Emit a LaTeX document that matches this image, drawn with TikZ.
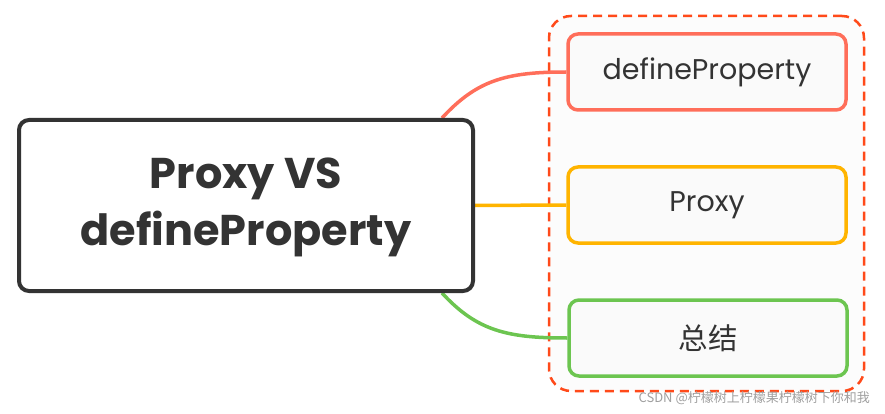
\documentclass[tikz,border=0pt]{standalone}
\usepackage{fontspec}
\setmainfont{Poppins}
\newfontfamily\cjk{Noto Sans CJK SC}
\usetikzlibrary{backgrounds}
\pgfdeclarelayer{back}
\pgfsetlayers{back,background,main}
\definecolor{dark}{HTML}{333333}
\definecolor{cred}{HTML}{FF6E5A}
\definecolor{corange}{HTML}{FFB400}
\definecolor{cgreen}{HTML}{6CC550}
\definecolor{grp}{HTML}{FF4A1A}
\definecolor{txt}{HTML}{333333}
\tikzset{
  centralbox/.style={draw=dark, line width=4pt, rounded corners=10pt, fill=white,
    minimum width=454pt, minimum height=171pt, text=txt,
    font=\fontsize{43}{57}\selectfont\bfseries, inner sep=0pt},
  childbox/.style={line width=3.5pt, rounded corners=10pt, fill=white!98!black,
    minimum width=278pt, minimum height=76pt, text=txt, inner sep=0pt,
    font=\fontsize{28.5}{32}\selectfont},
  conn/.style={line width=3.5pt},
  groupbox/.style={draw=grp, line width=2.5pt, dash pattern=on 9pt off 6pt, rounded corners=22pt, fill=white!99!black}
}
\begin{document}
\begin{tikzpicture}[x=1pt,y=-1pt]
\useasboundingbox (0,0) rectangle (885,414);
\node[centralbox] (c) at (246,205.5) {\raisebox{-5pt}{\begin{tabular}{@{}c@{}}Proxy VS\\defineProperty\end{tabular}}};
\node[childbox, draw=cred] (a) at (707,72) {\raisebox{-2pt}{defineProperty}};
\node[childbox, draw=corange] (b) at (707,205) {\raisebox{-2pt}{Proxy}};
\node[childbox, draw=cgreen, font=\cjk\fontsize{29.5}{32}\selectfont] (d) at (708,338) {总结};
\begin{pgfonlayer}{back}
\node[groupbox, minimum width=315pt, minimum height=375pt, inner sep=0pt] (g) at (706.5,203.5) {};
\end{pgfonlayer}
\begin{scope}[on background layer]
\draw[conn, cred] ([xshift=-33pt]c.north east) .. controls +(35,-38) and +(-60,0) .. (a.west);
\draw[conn, corange] (c.east) -- (b.west);
\draw[conn, cgreen] ([xshift=-33pt]c.south east) .. controls +(35,38) and +(-60,0) .. (d.west);
\end{scope}
\node[text=gray!75, font=\cjk\fontsize{13}{15}\selectfont, anchor=east, inner sep=0pt] (w) at (870,398) {CSDN @柠檬树上柠檬果柠檬树下你和我};
\end{tikzpicture}
\end{document}
